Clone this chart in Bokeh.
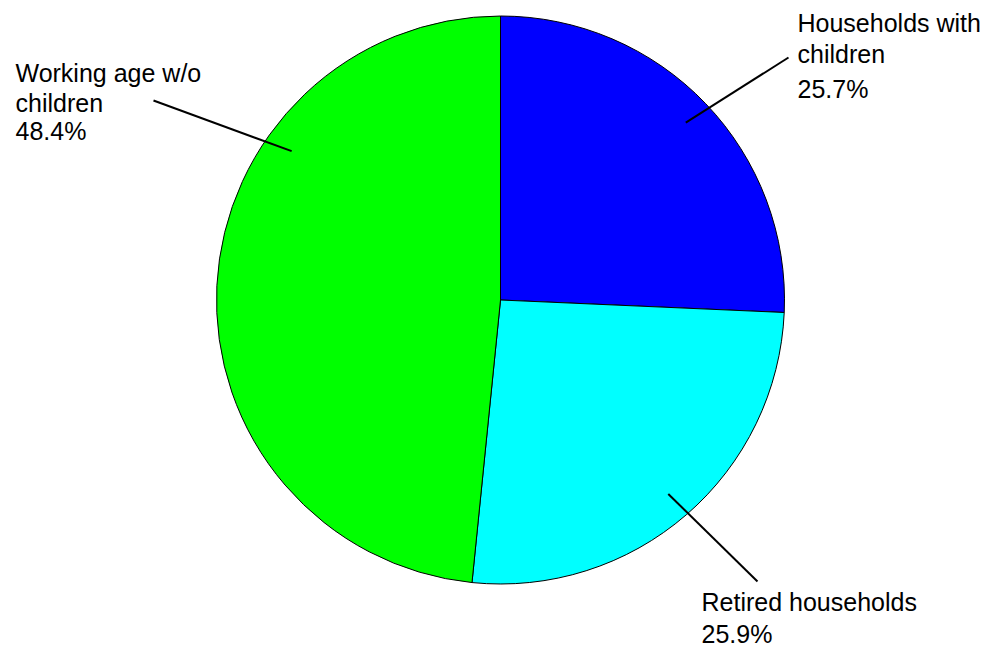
import math
from bokeh.plotting import figure
from bokeh.models import Range1d, ColumnDataSource
from bokeh.embed import file_html
from bokeh.resources import INLINE
from bokeh.core.properties import value

# ---- data ----
categories = ["Households with children", "Retired households", "Working age w/o children"]
shares = [25.7, 25.9, 48.4]
colors = ["#0000ff", "#00ffff", "#00ff00"]
label_lines = [["Households with", "children"], ["Retired households"], ["Working age w/o", "children"]]

# ---- layout (screen pixel positions in the picture) ----
W, H = 985, 650
def px(X):
    return X
def py(Y):
    return H - Y

CX, CY, R = px(500), py(299.5), 284
leader_angle_offset = [0.0, 0.0, 32.6]        # degrees added to the slice mid-angle
leader_rfrac = 0.903
leader_outer = [(788, 57), (757, 581), (153, 100)]
label_x = [797, 701, 15]
TEXT_SHIFT = 9   # rendered baseline sits this many px below the requested one
label_baselines = [[31, 62, 97], [610, 642], [81, 111, 139]]
FONT = "Liberation Sans"
FSIZE = "25px"

p = figure(width=W, height=H, x_range=Range1d(0, W), y_range=Range1d(0, H),
           output_backend="svg", toolbar_location=None, min_border=0,
           x_axis_type=None, y_axis_type=None)
p.grid.visible = False
p.outline_line_color = None
p.background_fill_color = "white"
p.border_fill_color = "white"

total = sum(shares)
starts, ends, mids = [], [], []
cum = 0.0
for s in shares:
    a0 = math.pi / 2 - 2 * math.pi * (cum + s) / total
    a1 = math.pi / 2 - 2 * math.pi * cum / total
    starts.append(a0)
    ends.append(a1)
    mids.append(360.0 * (cum + s / 2) / total)  # degrees clockwise from top
    cum += s

src = ColumnDataSource(dict(x=[CX] * len(shares), y=[CY] * len(shares),
                            start=starts, end=ends, color=colors, cat=categories))
p.wedge(x="x", y="y", radius=R, start_angle="start", end_angle="end",
        direction="anticlock", fill_color="color", line_color="black",
        line_width=1, source=src)

# leader lines
for i in range(len(shares)):
    ang = math.radians(mids[i] + leader_angle_offset[i])
    ix = CX + leader_rfrac * R * math.sin(ang)
    iy = CY + leader_rfrac * R * math.cos(ang)
    ox, oy = px(leader_outer[i][0]), py(leader_outer[i][1])
    p.line([ix, ox], [iy, oy], line_color="black", line_width=2)

# labels
for i in range(len(shares)):
    lines = label_lines[i] + [f"{shares[i]:.1f}%"]
    xs = [px(label_x[i])] * len(lines)
    ys = [py(b - TEXT_SHIFT) for b in label_baselines[i]]
    p.text(x=xs, y=ys, text=lines, text_font=value(FONT), text_font_size=FSIZE,
           text_baseline="alphabetic", text_align="left", text_color="black")

open("out.html", "w").write(file_html(p, INLINE))
